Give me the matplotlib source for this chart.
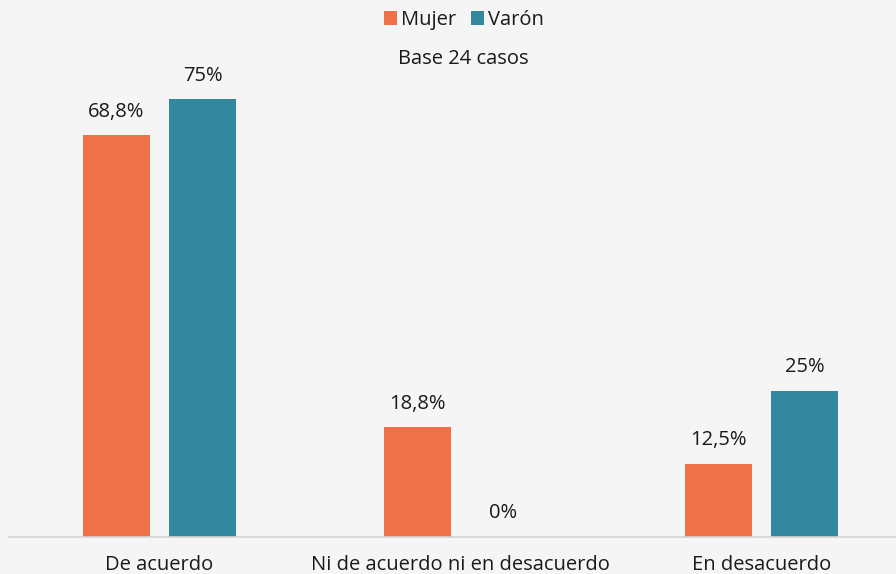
import numpy as np
import matplotlib.pyplot as plt
from matplotlib.patches import Patch

categories = ['De acuerdo', 'Ni de acuerdo ni en desacuerdo', 'En desacuerdo']
series = ['Mujer', 'Varón']
mujer = [68.8, 18.8, 12.5]
varon = [75.0, 0.0, 25.0]
labels_mujer = ['68,8%', '18,8%', '12,5%']
labels_varon = ['75%', '0%', '25%']

colors = ['#EF714A', '#33879F']
bg = '#F5F5F5'

plt.rcParams['font.family'] = ['Open Sans', 'DejaVu Sans']
fs = 14.5

W, H = 896, 574
fig = plt.figure(figsize=(W / 100, H / 100), dpi=100, facecolor=bg)

# ejes: base en y=536.5 px, 5.84 px por punto porcentual
base_px = 536.5
top_px = 80
ax = fig.add_axes([9 / W, (H - base_px) / H, (W - 9) / W, (base_px - top_px) / H])
ax.set_facecolor(bg)

x = np.arange(len(categories))
width = 0.2226
off = 0.143
for vals, labs, col, d in [(mujer, labels_mujer, colors[0], -off),
                           (varon, labels_varon, colors[1], off)]:
    bars = ax.bar(x + d, vals, width, color=col, edgecolor='none')
    for b, lab in zip(bars, labs):
        ax.annotate(lab, (b.get_x() + b.get_width() / 2, b.get_height()),
                    xytext=(0, 23), textcoords='offset pixels',
                    ha='center', va='center', fontsize=fs, color='#1a1a1a')

ax.set_xlim(-0.5, (W - 159.5) / 301)
ax.set_ylim(0, (base_px - top_px) / 5.84)

for s in ['top', 'right', 'left']:
    ax.spines[s].set_visible(False)
ax.spines['bottom'].set_color('#d4d4d4')
ax.spines['bottom'].set_linewidth(1.2)
ax.set_yticks([])
ax.set_xticks(x)
ax.set_xticklabels(categories, fontsize=fs, color='#1a1a1a')
ax.tick_params(axis='x', length=0, pad=13)

handles = [Patch(facecolor=c, edgecolor='none') for c in colors]
fig.legend(handles, series, loc='center', bbox_to_anchor=(464 / W, 1 - 20 / H),
           ncol=2, frameon=False, fontsize=fs, handlelength=0.65,
           handleheight=0.65, handletextpad=0.2, columnspacing=0.7,
           labelcolor='#1a1a1a')

fig.text(463 / W, 1 - 59 / H, 'Base 24 casos', ha='center', va='center',
         fontsize=fs, color='#1a1a1a')

fig.savefig('out.png', dpi=100, facecolor=bg)
